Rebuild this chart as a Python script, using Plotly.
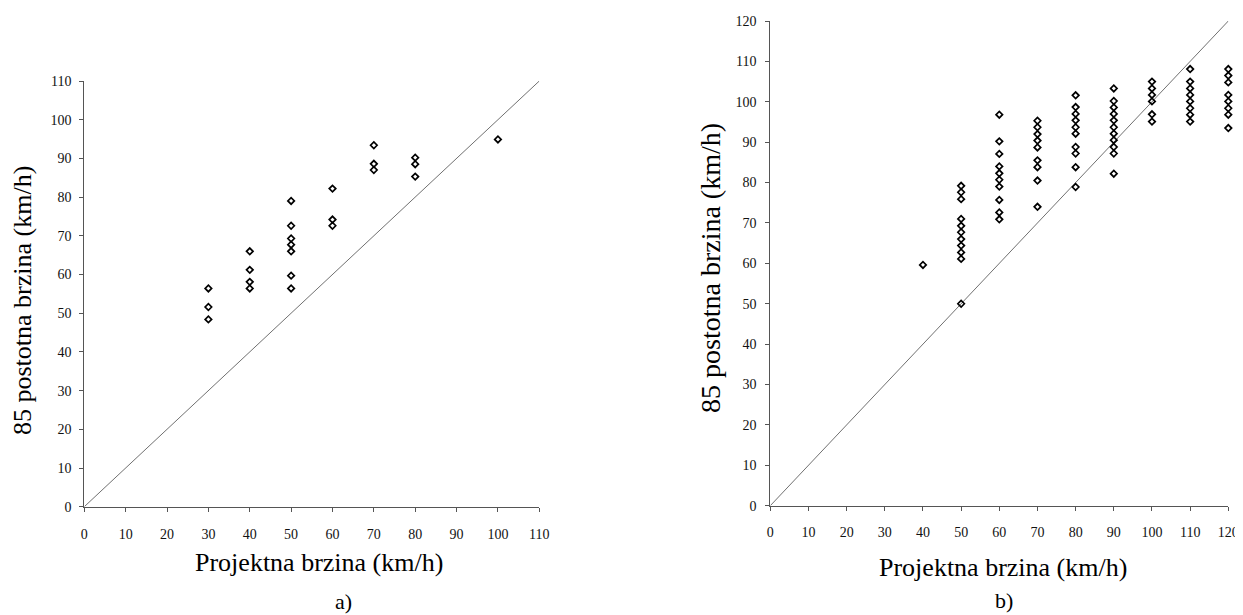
import plotly.graph_objects as go

# ---- Data: chart a) ----
a_design = [30, 30, 30,
            40, 40, 40, 40,
            50, 50, 50, 50, 50, 50, 50,
            60, 60, 60,
            70, 70, 70,
            80, 80, 80,
            100]
a_v85 = [56.4, 51.6, 48.4,
         66.0, 61.2, 58.1, 56.4,
         79.0, 72.6, 69.3, 67.7, 66.0, 59.7, 56.4,
         82.2, 74.2, 72.6,
         93.4, 88.6, 87.0,
         90.2, 88.5, 85.3,
         94.9]

# ---- Data: chart b) ----
b_design = ([40]
            + [50] * 11
            + [60] * 10
            + [70] * 9
            + [80] * 10
            + [90] * 11
            + [100] * 6
            + [110] * 8
            + [120] * 8)
b_v85 = ([59.6]
         + [79.2, 77.6, 75.9, 71.0, 69.3, 67.7, 66.0, 64.4, 62.7, 61.1, 50.0]
         + [96.8, 90.2, 87.1, 84.0, 82.3, 80.7, 79.0, 75.7, 72.6, 70.9]
         + [95.3, 93.7, 92.0, 90.4, 88.7, 85.5, 83.8, 80.5, 74.0]
         + [101.6, 98.7, 97.0, 95.4, 93.7, 92.1, 88.8, 87.2, 83.8, 78.9]
         + [103.3, 100.2, 98.6, 97.0, 95.4, 93.7, 92.1, 90.5, 88.8, 87.2, 82.2]
         + [105.0, 103.3, 101.7, 100.1, 96.9, 95.1]
         + [108.1, 105.0, 103.3, 101.7, 100.1, 98.4, 96.8, 95.1]
         + [108.1, 106.5, 104.8, 101.7, 100.1, 98.4, 96.8, 93.5])

# reference lines (V85 = design speed)
a_line = [0, 110]
b_line = [0, 120]

a_ticks = list(range(0, 111, 10))
b_ticks = list(range(0, 121, 10))

x_title = "Projektna brzina (km/h)"
y_title = "85 postotna brzina (km/h)"
panel_labels = ["a)", "b)"]

FONT = "Times New Roman, Liberation Serif, DejaVu Serif, serif"
PAGE_W, PAGE_H = 1243, 615
OFF = 8  # default body margin of the html page
W, H = PAGE_W - OFF, PAGE_H - OFF

fig = go.Figure()

marker = dict(symbol="diamond-open", size=5, color="black", line=dict(width=1.7, color="black"))
linestyle = dict(color="#707070", width=1)

fig.add_trace(go.Scatter(x=a_line, y=a_line, mode="lines", line=linestyle,
                         xaxis="x", yaxis="y", showlegend=False, hoverinfo="skip"))
fig.add_trace(go.Scatter(x=a_design, y=a_v85, mode="markers", marker=marker,
                         xaxis="x", yaxis="y", showlegend=False, cliponaxis=False))
fig.add_trace(go.Scatter(x=b_line, y=b_line, mode="lines", line=linestyle,
                         xaxis="x2", yaxis="y2", showlegend=False, hoverinfo="skip"))
fig.add_trace(go.Scatter(x=b_design, y=b_v85, mode="markers", marker=marker,
                         xaxis="x2", yaxis="y2", showlegend=False, cliponaxis=False))


def px_x(p):
    return (p - OFF) / W


def px_y(p):
    return 1 - (p - OFF) / H


AXC = "#555555"
axis_common = dict(
    showgrid=False, zeroline=False, showline=True, linecolor=AXC, linewidth=1,
    ticks="outside", ticklen=4, tickcolor=AXC, tickwidth=1, automargin=False,
    tickfont=dict(family=FONT, size=14, color="#111111"), tickmode="array",
)
# inside tick marks (reference ticks cross the axis line)
inner_common = dict(
    showgrid=False, zeroline=False, showline=False, ticks="inside", ticklen=4,
    tickcolor=AXC, tickwidth=1, automargin=False, showticklabels=False, tickmode="array",
)

ax_a = [px_x(84.3), px_x(539.3)]
ay_a = [px_y(506.7), px_y(81)]
ax_b = [px_x(770.3), px_x(1228.3)]
ay_b = [px_y(505.7), px_y(21)]

fig.update_layout(
    template="none",
    width=W, height=H,
    margin=dict(l=0, r=0, t=0, b=0),
    paper_bgcolor="white", plot_bgcolor="white",
    font=dict(family=FONT, color="black"),
    xaxis=dict(domain=ax_a, range=[0, 110], anchor="y", tickvals=a_ticks,
               ticklabelstandoff=10, **axis_common),
    yaxis=dict(domain=ay_a, range=[0, 110], anchor="x", tickvals=a_ticks,
               ticklabelstandoff=5, **axis_common),
    xaxis2=dict(domain=ax_b, range=[0, 120], anchor="y2", tickvals=b_ticks,
                ticklabelstandoff=9, **axis_common),
    yaxis2=dict(domain=ay_b, range=[0, 120], anchor="x2", tickvals=b_ticks,
                ticklabelstandoff=6, **axis_common),
    xaxis3=dict(domain=ax_a, range=[0, 110], anchor="y", overlaying="x", tickvals=a_ticks, **inner_common),
    yaxis3=dict(domain=ay_a, range=[0, 110], anchor="x", overlaying="y", tickvals=a_ticks, **inner_common),
    xaxis4=dict(domain=ax_b, range=[0, 120], anchor="y2", overlaying="x2", tickvals=b_ticks, **inner_common),
    yaxis4=dict(domain=ay_b, range=[0, 120], anchor="x2", overlaying="y2", tickvals=b_ticks, **inner_common),
)

ann = []
# x titles
ann.append(dict(text=x_title, x=px_x(319), y=px_y(562), xref="paper", yref="paper",
                showarrow=False, font=dict(family=FONT, size=26), xanchor="center", yanchor="middle"))
ann.append(dict(text=x_title, x=px_x(1003), y=px_y(567), xref="paper", yref="paper",
                showarrow=False, font=dict(family=FONT, size=26), xanchor="center", yanchor="middle"))
# y titles
ann.append(dict(text=y_title, x=px_x(22), y=px_y(301), xref="paper", yref="paper",
                showarrow=False, textangle=-90, font=dict(family=FONT, size=26),
                xanchor="center", yanchor="middle"))
ann.append(dict(text=y_title, x=px_x(710), y=px_y(268), xref="paper", yref="paper",
                showarrow=False, textangle=-90, font=dict(family=FONT, size=28),
                xanchor="center", yanchor="middle"))
# panel labels
ann.append(dict(text=panel_labels[0], x=px_x(343), y=px_y(601), xref="paper", yref="paper",
                showarrow=False, font=dict(family=FONT, size=22), xanchor="center", yanchor="middle"))
ann.append(dict(text=panel_labels[1], x=px_x(1004), y=px_y(600), xref="paper", yref="paper",
                showarrow=False, font=dict(family=FONT, size=22), xanchor="center", yanchor="middle"))
fig.update_layout(annotations=ann)

fig.write_html("out.html")
